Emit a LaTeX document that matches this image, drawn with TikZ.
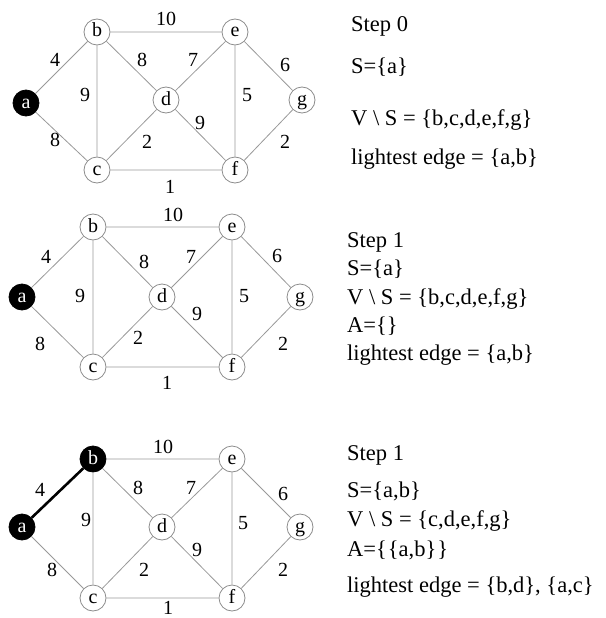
\documentclass[tikz,border=0pt]{standalone}
\usepackage{fontspec}
\setmainfont{Liberation Serif}
\begin{document}
\begin{tikzpicture}[x=1pt,y=-1pt,
        vert/.style={draw=black!45,circle,fill=white,line width=0.8pt,minimum size=26pt,inner sep=0pt,font=\fontsize{20}{24}\selectfont,text height=12pt,text depth=2pt},
        sel/.style={vert,draw=black,fill=black,text=white},
        edge/.style={draw=black!40,line width=0.8pt},
        tree/.style={draw=black,line width=2.6pt},
        wt/.style={inner sep=0pt,font=\fontsize{20}{24}\selectfont},
        info/.style={anchor=base west,inner sep=0pt,font=\fontsize{22.5}{27}\selectfont}
      ]
      \useasboundingbox (0,0) rectangle (605,618);
      % step 0
      \node[sel] (a0) at (26,103) {a};
      \node[vert] (b0) at (97,32) {b};
      \node[vert] (c0) at (97,170) {c};
      \node[vert] (d0) at (166,100) {d};
      \node[vert] (e0) at (235,32) {e};
      \node[vert] (f0) at (235,170) {f};
      \node[vert] (g0) at (302,100) {g};
      \draw[edge] (a0) -- (b0) (a0) -- (c0) (b0) -- (c0) (b0) -- (d0) (b0) -- (e0) (c0) -- (d0)
        (c0) -- (f0) (d0) -- (e0) (d0) -- (f0) (e0) -- (f0) (e0) -- (g0) (f0) -- (g0);
      \node[wt] (w0be) at (166,19) {10};
      \node[wt] (w0ab) at (55,60) {4};
      \node[wt] (w0bd) at (142,60) {8};
      \node[wt] (w0de) at (193,60) {7};
      \node[wt] (w0eg) at (285,65) {6};
      \node[wt] (w0bc) at (85,95) {9};
      \node[wt] (w0ef) at (247,95) {5};
      \node[wt] (w0df) at (200,123) {9};
      \node[wt] (w0ac) at (55,140) {8};
      \node[wt] (w0cd) at (147,142) {2};
      \node[wt] (w0fg) at (285,142) {2};
      \node[wt] (w0cf) at (170,187) {1};
      \node[info] (t0a) at (351,32) {Step 0};
      \node[info] (t0b) at (351,74) {S=\{a\}};
      \node[info] (t0c) at (351,125) {V \textbackslash{} S = \{b,c,d,e,f,g\}};
      \node[info] (t0d) at (351,164) {lightest edge = \{a,b\}};
      % step 1
      \node[sel] (a1) at (22,297) {a};
      \node[vert] (b1) at (93,227) {b};
      \node[vert] (c1) at (93,367) {c};
      \node[vert] (d1) at (162,297) {d};
      \node[vert] (e1) at (232,227) {e};
      \node[vert] (f1) at (232,367) {f};
      \node[vert] (g1) at (300,297) {g};
      \draw[edge] (a1) -- (b1) (a1) -- (c1) (b1) -- (c1) (b1) -- (d1) (b1) -- (e1) (c1) -- (d1)
        (c1) -- (f1) (d1) -- (e1) (d1) -- (f1) (e1) -- (f1) (e1) -- (g1) (f1) -- (g1);
      \node[wt] (w1be) at (173,215) {10};
      \node[wt] (w1ab) at (46,257) {4};
      \node[wt] (w1bd) at (144,262) {8};
      \node[wt] (w1de) at (191,257) {7};
      \node[wt] (w1eg) at (277,256) {6};
      \node[wt] (w1bc) at (80,296) {9};
      \node[wt] (w1ef) at (244,296) {5};
      \node[wt] (w1df) at (197,314) {9};
      \node[wt] (w1ac) at (40,344) {8};
      \node[wt] (w1cd) at (138,338) {2};
      \node[wt] (w1fg) at (283,344) {2};
      \node[wt] (w1cf) at (167,383) {1};
      \node[info] (t1a) at (347,247) {Step 1};
      \node[info] (t1b) at (347,275) {S=\{a\}};
      \node[info] (t1c) at (347,304) {V \textbackslash{} S = \{b,c,d,e,f,g\}};
      \node[info] (t1d) at (347,332) {A=\{\}};
      \node[info] (t1e) at (347,360) {lightest edge = \{a,b\}};
      % step 1, a-b taken
      \node[sel] (a2) at (22,527) {a};
      \node[sel] (b2) at (93,459) {b};
      \node[vert] (c2) at (93,598) {c};
      \node[vert] (d2) at (162,527) {d};
      \node[vert] (e2) at (232,459) {e};
      \node[vert] (f2) at (232,598) {f};
      \node[vert] (g2) at (300,527) {g};
      \draw[edge] (a2) -- (c2) (b2) -- (c2) (b2) -- (d2) (b2) -- (e2) (c2) -- (d2)
        (c2) -- (f2) (d2) -- (e2) (d2) -- (f2) (e2) -- (f2) (e2) -- (g2) (f2) -- (g2);
      \draw[tree] (a2) -- (b2);
      \node[wt] (w2be) at (163,447) {10};
      \node[wt] (w2ab) at (40,490) {4};
      \node[wt] (w2bd) at (138,488) {8};
      \node[wt] (w2de) at (191,488) {7};
      \node[wt] (w2eg) at (283,494) {6};
      \node[wt] (w2bc) at (86,520) {9};
      \node[wt] (w2ef) at (243,523) {5};
      \node[wt] (w2df) at (197,550) {9};
      \node[wt] (w2ac) at (52,570) {8};
      \node[wt] (w2cd) at (144,570) {2};
      \node[wt] (w2fg) at (283,570) {2};
      \node[wt] (w2cf) at (168,608) {1};
      \node[info] (t2a) at (347,460) {Step 1};
      \node[info] (t2b) at (347,497) {S=\{a,b\}};
      \node[info] (t2c) at (347,526) {V \textbackslash{} S = \{c,d,e,f,g\}};
      \node[info] (t2d) at (347,556) {A=\{\kern1pt\{a,b\}\kern1pt\}};
      \node[info] (t2e) at (347,592) {lightest edge = \{b,d\},\ \{a,c\}};
    \end{tikzpicture}
\end{document}
